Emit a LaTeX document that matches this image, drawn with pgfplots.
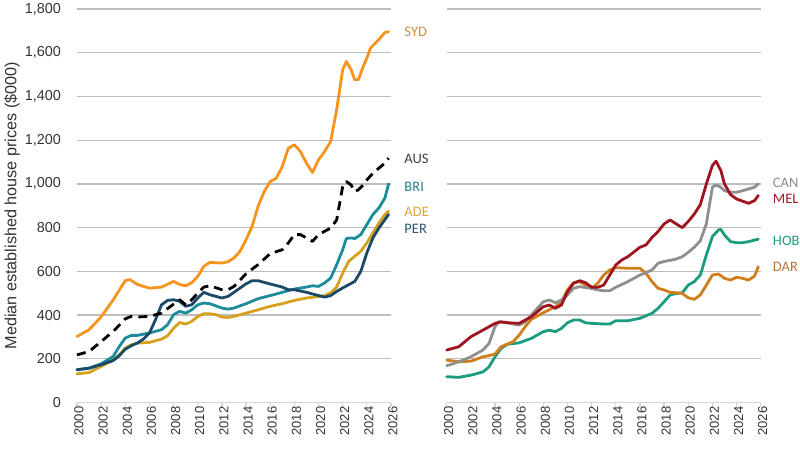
\documentclass[border=0pt]{standalone}
\usepackage{pgfplots}
\pgfplotsset{compat=1.18}
\usepackage{fontspec}
\setmainfont{Liberation Sans}
\newfontfamily\lblfont{Carlito}

\definecolor{cSYD}{HTML}{F7941D}
\definecolor{cBRI}{HTML}{1C8C9C}
\definecolor{cADE}{HTML}{D6A21E}
\definecolor{cPER}{HTML}{1B4A68}
\definecolor{cMEL}{HTML}{A0141F}
\definecolor{cCAN}{HTML}{8F8F8F}
\definecolor{cHOB}{HTML}{1A9C80}
\definecolor{cDAR}{HTML}{D07E1C}
\definecolor{tSYD}{HTML}{D88A3E}
\definecolor{tAUS}{HTML}{404040}
\definecolor{tBRI}{HTML}{2B7F91}
\definecolor{tADE}{HTML}{E2A43A}
\definecolor{tPER}{HTML}{2F5470}
\definecolor{tCAN}{HTML}{8C8C8C}
\definecolor{tMEL}{HTML}{A01C24}
\definecolor{tHOB}{HTML}{1F9C84}
\definecolor{tDAR}{HTML}{B8733A}
\definecolor{gridc}{HTML}{BDBDBD}
\definecolor{axisc}{HTML}{D6D6D6}

\tikzset{lbl/.style={anchor=west, inner sep=0pt, font=\lblfont\fontsize{14.5}{16}\selectfont}}

\pgfplotsset{
  panel/.style={
    scale only axis, width=314pt, height=393.5pt,
    xmin=2000, xmax=2026, ymin=0, ymax=1800,
    clip=false,
    axis x line*=bottom, axis y line*=left,
    y axis line style={draw=none},
    x axis line style={draw=axisc, line width=1.2pt},
    xtick={2000,2002,...,2026},
    ytick={0,200,...,1800},
    ymajorgrids, grid style={draw=gridc, line width=1.3pt},
    ytick style={draw=none},
    xtick style={draw=axisc, line width=1.2pt},
    tick align=outside, major tick length=4pt,
    xticklabel style={rotate=90, anchor=east, inner sep=0pt, xshift=0pt, yshift=-2pt,
      font=\fontsize{13}{14}\selectfont, text=black!80,
      /pgf/number format/1000 sep={}},
    /pgf/number format/assume math mode=true,
    every axis plot/.append style={line width=2.8pt, line join=round, line cap=round},
  },
}

\begin{document}
\begin{tikzpicture}
% Capital cities, left panel
\begin{axis}[panel, at={(77pt,48.5pt)}, anchor=south west,
  yticklabel style={anchor=east, inner sep=0pt, xshift=-12pt,
    font=\fontsize{14.4}{16}\selectfont, text=black!80,
    /pgf/number format/1000 sep={,}},
  ylabel={Median established house prices (\$000)},
  every axis y label/.style={at={(rel axis cs:-0.207,0.5)}, rotate=90, anchor=center,
    font=\fontsize{16.2}{18}\selectfont, text=black!80},
]
% ADE
\addplot[cADE] coordinates {(2000,131)(2001,137)(2002,165)(2003,195)(2003.5,218)(2004,249)(2004.5,264)(2005,272)(2006,275)(2007,290)(2007.5,305)(2008,340)(2008.5,366)(2009,359)(2009.5,371)(2010,394)(2010.5,406)(2011,406)(2011.5,402)(2012,391)(2012.5,389)(2013,394)(2014,409)(2015,424)(2016,440)(2017,452)(2018,467)(2019,478)(2020,485)(2020.5,489)(2021,501)(2021.5,528)(2022,592)(2022.5,646)(2023,669)(2023.5,692)(2024,730)(2024.5,776)(2025,821)(2025.5,860)(2025.8,875)};
% BRI
\addplot[cBRI] coordinates {(2000,150)(2001,157)(2002,177)(2003,211)(2003.5,256)(2004,295)(2004.5,307)(2005,307)(2006,318)(2007,333)(2007.5,356)(2008,402)(2008.5,417)(2009,409)(2009.5,424)(2010,447)(2010.5,455)(2011,452)(2012,432)(2012.5,427)(2013,432)(2014,452)(2015,475)(2016,489)(2017,504)(2018,519)(2019,528)(2019.5,534)(2020,531)(2020.5,547)(2021,569)(2021.5,630)(2022,699)(2022.3,750)(2022.7,753)(2023,750)(2023.5,768)(2024,814)(2024.5,860)(2025,890)(2025.5,936)(2025.8,1000)};
% PER
\addplot[cPER] coordinates {(2000,150)(2001,157)(2002,173)(2003,192)(2003.5,214)(2004,244)(2004.5,260)(2005,272)(2005.5,290)(2006,318)(2006.5,379)(2007,447)(2007.5,467)(2008,470)(2008.5,463)(2009,440)(2009.5,447)(2010,478)(2010.5,504)(2011,493)(2012,478)(2012.5,485)(2013,504)(2014,543)(2014.5,557)(2015,557)(2016,542)(2017,528)(2017.5,516)(2018,516)(2019,504)(2020,489)(2020.5,482)(2021,489)(2021.5,508)(2022,524)(2023,554)(2023.5,600)(2024,684)(2024.5,753)(2025,798)(2025.5,837)(2025.8,860)};
% SYD
\addplot[cSYD] coordinates {(2000,302)(2001,333)(2002,392)(2003,470)(2004,558)(2004.4,562)(2005,540)(2006,523)(2007,528)(2008,554)(2008.5,540)(2009,534)(2009.5,548)(2010,577)(2010.5,623)(2011,641)(2012,638)(2012.5,644)(2013,661)(2013.5,692)(2014,745)(2014.5,806)(2015,898)(2015.5,965)(2016,1011)(2016.5,1026)(2017,1080)(2017.5,1163)(2018,1179)(2018.5,1148)(2019,1095)(2019.5,1052)(2020,1110)(2020.5,1148)(2021,1194)(2021.5,1339)(2022,1522)(2022.3,1560)(2022.7,1522)(2023,1476)(2023.3,1476)(2023.7,1537)(2024,1576)(2024.3,1621)(2024.7,1644)(2025,1661)(2025.5,1693)(2025.8,1696)};
% AUS
\addplot[black, dash pattern=on 9pt off 6pt, line cap=butt] coordinates {(2000,218)(2001,233)(2002,279)(2003,325)(2004,383)(2004.5,394)(2005,391)(2006,394)(2007,409)(2008,450)(2008.5,470)(2009,447)(2009.5,470)(2010,501)(2010.5,528)(2011,534)(2012,516)(2012.5,516)(2013,531)(2014,589)(2015,631)(2016,681)(2017,699)(2017.5,730)(2018,768)(2018.5,768)(2019,753)(2019.5,737)(2020,768)(2020.5,783)(2021,798)(2021.5,835)(2022,988)(2022.3,1011)(2022.7,995)(2023,965)(2023.3,973)(2023.7,995)(2024,1018)(2024.5,1049)(2025,1072)(2025.5,1095)(2025.8,1118)};
\node[lbl, text=tSYD] at (axis cs:2027.1,1695) {SYD};
\node[lbl, text=tAUS] at (axis cs:2027.1,1114) {AUS};
\node[lbl, text=tBRI] at (axis cs:2027.1,986) {BRI};
\node[lbl, text=tADE] at (axis cs:2027.1,872) {ADE};
\node[lbl, text=tPER] at (axis cs:2027.1,794) {PER};
\end{axis}

% Remaining capitals, right panel
\begin{axis}[panel, at={(446.7pt,48.5pt)}, anchor=south west, yticklabels={}]
% HOB
\addplot[cHOB] coordinates {(2000,118)(2001,115)(2002,125)(2003,140)(2003.5,163)(2004,209)(2004.5,247)(2005,266)(2006,273)(2007,293)(2008,324)(2008.5,331)(2009,324)(2009.5,339)(2010,365)(2010.5,377)(2011,377)(2011.5,365)(2012,362)(2013,359)(2013.5,359)(2014,374)(2015,374)(2016,385)(2017,408)(2017.5,431)(2018,461)(2018.5,492)(2019,499)(2019.5,502)(2020,537)(2020.5,553)(2021,583)(2021.5,675)(2022,759)(2022.5,789)(2022.7,792)(2023,766)(2023.5,736)(2024,731)(2024.5,731)(2025,736)(2025.5,743)(2025.8,747)};
% DAR
\addplot[cDAR] coordinates {(2000,194)(2001,186)(2002,189)(2003,209)(2004,221)(2004.5,255)(2005,267)(2005.5,278)(2006,308)(2006.5,347)(2007,380)(2008,411)(2009,438)(2009.5,461)(2010,515)(2010.5,548)(2011,553)(2011.5,537)(2012,522)(2012.5,545)(2013,583)(2013.5,606)(2014,617)(2015,614)(2016,614)(2016.5,591)(2017,553)(2017.5,522)(2018,515)(2018.5,504)(2019,502)(2019.5,499)(2020,479)(2020.5,472)(2021,492)(2021.5,537)(2022,583)(2022.5,588)(2023,568)(2023.5,560)(2024,573)(2024.5,568)(2025,560)(2025.5,579)(2025.8,621)};
% CAN
\addplot[cCAN] coordinates {(2000,168)(2001,186)(2002,209)(2003,240)(2003.5,270)(2004,347)(2004.3,369)(2005,365)(2006,354)(2006.5,369)(2007,400)(2008,461)(2008.5,469)(2009,456)(2009.5,469)(2010,492)(2010.5,522)(2011,530)(2012,522)(2012.5,515)(2013,511)(2013.5,511)(2014,527)(2015,553)(2016,583)(2017,606)(2017.5,637)(2018,645)(2019,656)(2019.5,667)(2020,687)(2020.5,710)(2021,740)(2021.5,817)(2022,985)(2022.3,995)(2022.7,985)(2023,969)(2023.5,962)(2024,962)(2024.5,969)(2025,977)(2025.5,985)(2025.8,1000)};
% MEL
\addplot[cMEL] coordinates {(2000,240)(2001,255)(2001.5,278)(2002,301)(2003,331)(2004,362)(2004.5,369)(2005,365)(2006,362)(2007,392)(2008,438)(2008.5,446)(2009,431)(2009.5,446)(2010,507)(2010.5,545)(2011,557)(2011.5,548)(2012,527)(2012.5,527)(2013,537)(2013.5,583)(2014,629)(2014.5,652)(2015,667)(2016,710)(2016.5,721)(2017,755)(2017.5,782)(2018,817)(2018.5,835)(2019,817)(2019.5,800)(2020,828)(2020.5,862)(2021,905)(2021.5,1000)(2022,1084)(2022.3,1104)(2022.7,1061)(2023,1000)(2023.5,951)(2024,931)(2024.5,921)(2025,911)(2025.5,924)(2025.8,947)};
\node[lbl, text=tCAN] at (axis cs:2027,1004) {CAN};
\node[lbl, text=tMEL] at (axis cs:2027,931) {MEL};
\node[lbl, text=tHOB] at (axis cs:2027,739) {HOB};
\node[lbl, text=tDAR] at (axis cs:2027,620) {DAR};
\end{axis}
\pgfresetboundingbox
\useasboundingbox (0,0) rectangle (800pt,451pt);
\end{tikzpicture}
\end{document}
